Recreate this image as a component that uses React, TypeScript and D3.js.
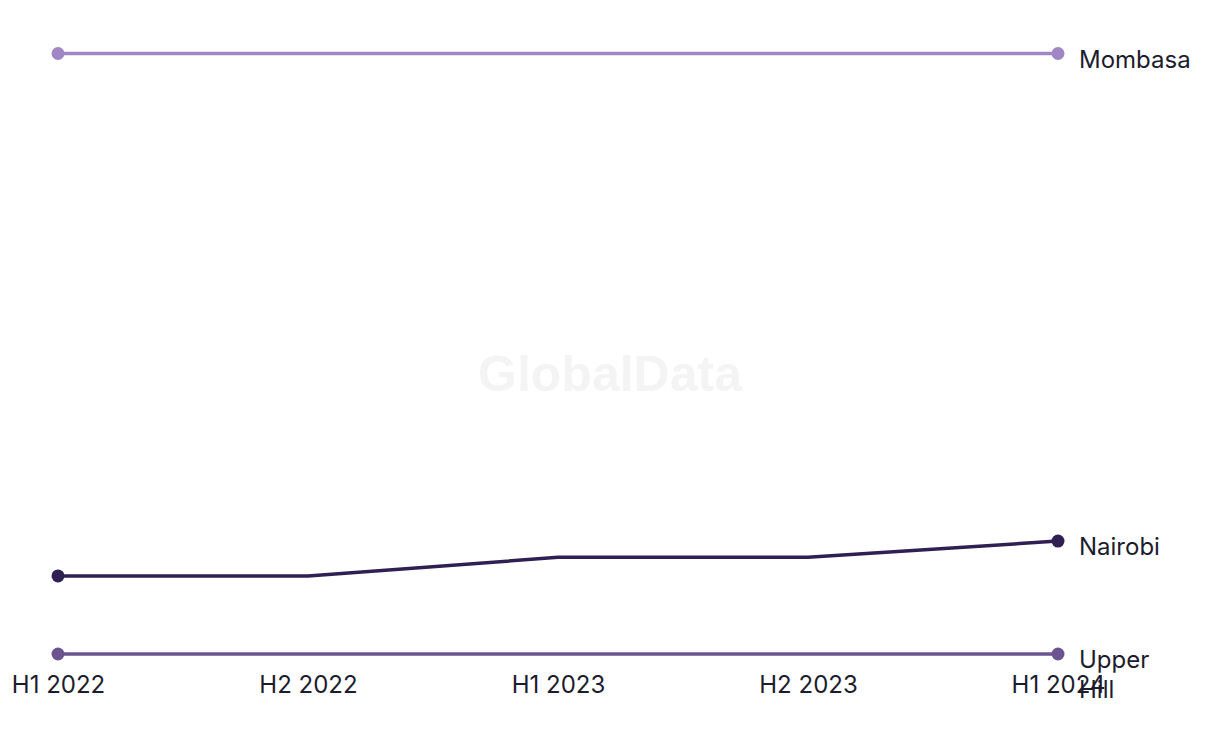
import { useEffect, useRef } from 'react';
import * as d3 from 'd3';

// periods on the x axis
const periods = ['H1 2022', 'H2 2022', 'H1 2023', 'H2 2023', 'H1 2024'];

// series values (y axis is hidden in the original, values estimated relative to each other)
const mombasa = [120, 120, 120, 120, 120];
const nairobi = [33, 33, 36.1, 36.1, 38.8];
const upperHill = [20, 20, 20, 20, 20];

const seriesNames = ['Mombasa', 'Nairobi', 'Upper Hill'];
const seriesColors = ['#a086c4', '#2f1f52', '#6b5490'];

export default function App() {
  const svgRef = useRef<SVGSVGElement>(null);

  useEffect(() => {
    if (!svgRef.current) return;

    const width = 1220;
    const height = 744;
    const margin = { top: 53.5, right: 162, bottom: 90, left: 58 };

    const svg = d3.select(svgRef.current);
    svg.selectAll('*').remove();
    svg.attr('width', width).attr('height', height);

    const font = 'Inter, "Noto Sans", sans-serif';

    // watermark
    svg.append('text')
      .attr('x', 610)
      .attr('y', 391)
      .attr('text-anchor', 'middle')
      .style('font-family', '"Liberation Sans", Arial, sans-serif')
      .style('font-weight', '700')
      .style('font-size', '50px')
      .attr('fill', '#f4f4f4')
      .text('GlobalData');

    const xScale = d3.scalePoint<string>()
      .domain(periods)
      .range([margin.left, width - margin.right]);

    const yScale = d3.scaleLinear()
      .domain([20, 120])
      .range([height - margin.bottom, margin.top]);

    const series = [mombasa, nairobi, upperHill];

    const line = d3.line<number>()
      .x((_, i) => xScale(periods[i]) as number)
      .y(d => yScale(d));

    // x axis labels
    const xAxis = svg.append('g')
      .attr('transform', `translate(0,${height - margin.bottom})`)
      .call(d3.axisBottom(xScale).tickSize(0).tickPadding(22));
    xAxis.select('.domain').remove();
    xAxis.selectAll('text')
      .style('font-family', font)
      .style('font-size', '24px')
      .attr('fill', '#1c1c2e');

    series.forEach((values, si) => {
      const color = seriesColors[si];
      svg.append('path')
        .datum(values)
        .attr('fill', 'none')
        .attr('stroke', color)
        .attr('stroke-width', 3.5)
        .attr('d', line);

      const ends = [0, values.length - 1];
      ends.forEach(i => {
        svg.append('circle')
          .attr('cx', xScale(periods[i]) as number)
          .attr('cy', yScale(values[i]))
          .attr('r', 6.5)
          .attr('fill', color);
      });

      const last = values.length - 1;
      const lx = (xScale(periods[last]) as number) + 21;
      const label = svg.append('text')
        .attr('x', lx)
        .attr('y', yScale(values[last]) + 14)
        .style('font-family', font)
        .style('font-size', '24px')
        .attr('fill', '#1c1c2e');
      const words = seriesNames[si] === 'Upper Hill' ? ['Upper', 'Hill'] : [seriesNames[si]];
      words.forEach((w, wi) => {
        label.append('tspan')
          .attr('x', lx)
          .attr('dy', wi === 0 ? 0 : 30)
          .text(w);
      });
    });
  }, []);

  return (
    <svg ref={svgRef} style={{ position: 'absolute', left: 0, top: 0 }}></svg>
  );
}
